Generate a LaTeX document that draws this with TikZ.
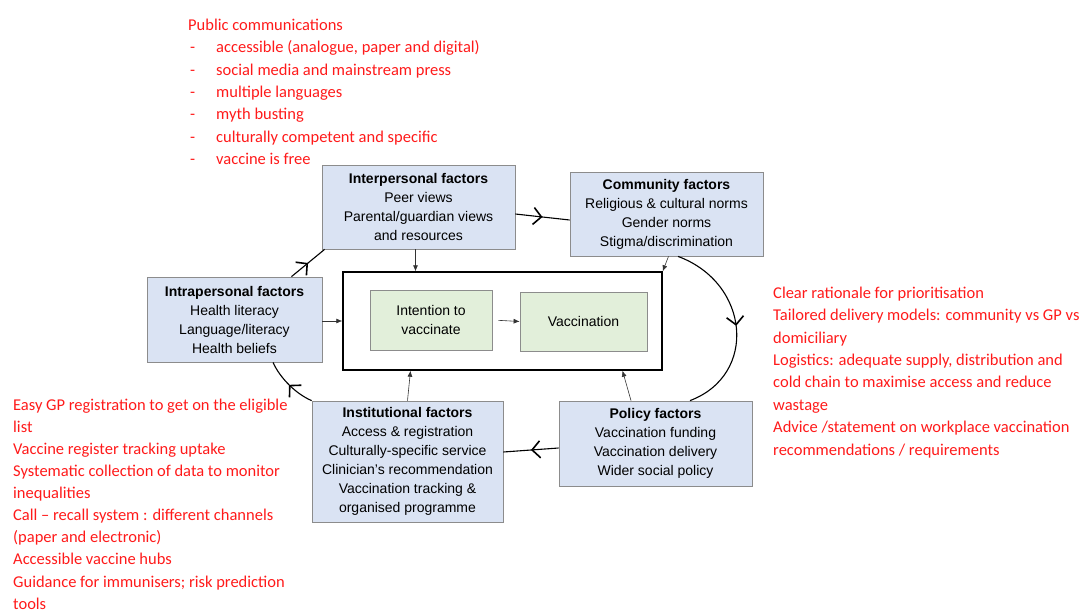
\documentclass[tikz,border=0pt]{standalone}
\usepackage{fontspec}
\setmainfont{Liberation Sans}
\newfontfamily\redfont{Carlito}
\usetikzlibrary{arrows.meta,decorations.markings}
\definecolor{boxfill}{HTML}{DAE3F3}
\definecolor{greenfill}{HTML}{E2EFDA}
\definecolor{boxline}{HTML}{8C8C8C}
\definecolor{notered}{HTML}{FF1A1A}
\newcommand{\dashitem}[1]{\makebox[28pt][l]{\hspace{2pt}-}#1}
\begin{document}
\begin{tikzpicture}[x=1pt,y=-1pt,
  factor/.style={draw=boxline, fill=boxfill, line width=0.8pt, align=center,
    font=\fontsize{14}{19}\selectfont, inner sep=0pt},
  greenbox/.style={draw=boxline, fill=greenfill, line width=0.8pt, align=center,
    font=\fontsize{14}{19}\selectfont, inner sep=0pt},
  outerbox/.style={draw=black, line width=1.4pt, inner sep=0pt},
  small/.style={draw=black!80, line width=0.6pt, -{Latex[length=6pt,width=5pt]}},
  loop/.style={draw=black, line width=1.1pt, postaction={decorate},
    decoration={markings, mark=at position 0.5 with
      {\arrow{Straight Barb[length=8pt,width=17pt,line width=1.6pt]}}}},
  note/.style={text=notered, font=\redfont\fontsize{16.5}{22.4}\selectfont,
    align=left, inner sep=0pt, anchor=north west}
]
\useasboundingbox (0,0) rectangle (1082,613);

% main boxes
\node[factor, minimum width=193pt, minimum height=84pt] (inter) at (418.5,207)
  {\textbf{Interpersonal factors}\\Peer views\\Parental/guardian views\\and resources};
\node[factor, minimum width=193pt, minimum height=84pt] (comm) at (666.5,214)
  {\textbf{Community factors}\\Religious \& cultural norms\\Gender norms\\Stigma/discrimination};
\node[factor, minimum width=175pt, minimum height=85pt] (intra) at (234.5,319.5)
  {\textbf{Intrapersonal factors}\\Health literacy\\Language/literacy\\Health beliefs};
\node[outerbox, minimum width=319pt, minimum height=98pt] (inner) at (502.5,321) {};
\node[greenbox, minimum width=122pt, minimum height=60pt] (intent) at (431,320)
  {Intention to\\vaccinate};
\node[greenbox, minimum width=127pt, minimum height=59pt] (vacc) at (583.5,321.5)
  {Vaccination};
\node[factor, minimum width=191pt, minimum height=121pt] (inst) at (407.5,461.5)
  {\textbf{Institutional factors}\\Access \& registration\\Culturally-specific service\\Clinician's recommendation\\Vaccination tracking \&\\organised programme};
\node[factor, minimum width=193pt, minimum height=85pt] (pol) at (655.5,443.5)
  {\textbf{Policy factors}\\Vaccination funding\\Vaccination delivery\\Wider social policy};

% small arrows into the inner box
\draw[small] ([xshift=-3pt]inter.south) -- ([xshift=-3pt]inter.south |- inner.north);
\draw[small] ([xshift=2pt]comm.south) -- (inner.north east);
\draw[small] (inner.west -| intra.east) -- (inner.west);
\draw[small, shorten <=6pt] (intent.east) -- (vacc.west);
\draw[small] (inst.north) -- ([xshift=-92pt]inner.south);
\draw[small] ([xshift=-24.5pt]pol.north) -- ([xshift=120pt]inner.south);

% loop connectors
\draw[loop] ([xshift=57pt]intra.north) -- ([xshift=3pt]inter.south west);
\draw[loop] ([yshift=-7pt]inter.east) -- ([yshift=-6pt]comm.west);
\draw[loop] ([xshift=11.5pt]comm.south) .. controls (750,283) and (758,375) .. ([xshift=34.5pt]pol.north);
\draw[loop] ([yshift=-4.5pt]pol.west) -- ([yshift=9.5pt]inst.east);
\draw[loop] (inst.north west) .. controls (296,394) and (280,378) .. ([xshift=38.5pt]intra.south);

% notes
\node[note] (pubcomm) at (188,16) {\rule{0pt}{14pt}Public communications\\
  \dashitem{accessible (analogue, paper and digital)}\\
  \dashitem{social media and mainstream press}\\
  \dashitem{multiple languages}\\
  \dashitem{myth busting}\\
  \dashitem{culturally competent and specific}\\
  \dashitem{vaccine is free}};
\node[note] (polnote) at (773,284) {\rule{0pt}{14pt}Clear rationale for prioritisation\\
  Tailored delivery models: community vs GP vs\\
  domiciliary\\
  Logistics: adequate supply, distribution and\\
  cold chain to maximise access and reduce\\
  wastage\\
  Advice /statement on workplace vaccination\\
  recommendations / requirements};
\node[note, font=\redfont\fontsize{16.5}{22.1}\selectfont] (instnote) at (13,396) {\rule{0pt}{14pt}Easy GP registration to get on the eligible\\
  list\\
  Vaccine register tracking uptake\\
  Systematic collection of data to monitor\\
  inequalities\\
  Call – recall system : different channels\\
  (paper and electronic)\\
  Accessible vaccine hubs\\
  Guidance for immunisers;  risk prediction\\
  tools};
\end{tikzpicture}
\end{document}
